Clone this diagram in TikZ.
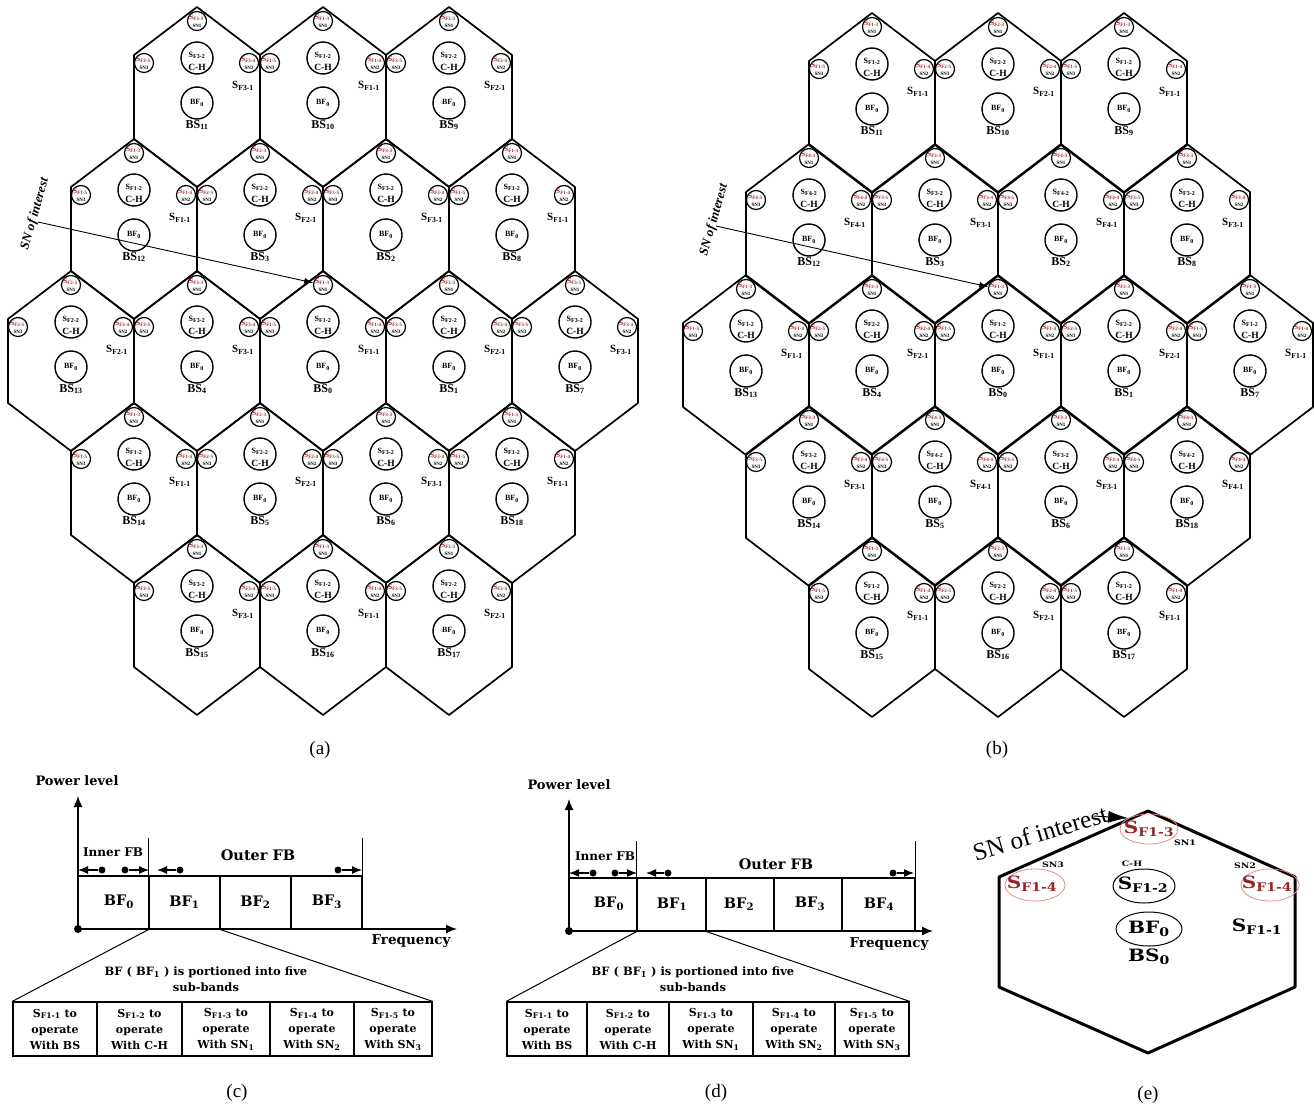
\documentclass[tikz,border=0pt]{standalone}
\usepackage{fontspec}
\usepackage{graphicx}
\setmainfont{Liberation Serif}
\newfontfamily\dvs{DejaVu Serif}
\usetikzlibrary{arrows.meta,shapes.geometric}
\definecolor{snred}{RGB}{160,40,40}
\definecolor{ered}{RGB}{150,38,38}
\definecolor{elight}{RGB}{230,140,140}
\newcommand\fsz[1]{\fontsize{#1}{#1}\selectfont}
\tikzset{
  hexl/.style={line width=1.7pt, line join=round},
  sncirc/.style={circle, draw, line width=1.2pt, minimum size=19pt, inner sep=0pt},
  bigc/.style={circle, draw, line width=1.4pt, minimum size=32pt, inner sep=0pt},
  redS/.style={inner sep=0pt, text=snred, font=\bfseries\fsz{7}},
  snt/.style={inner sep=0pt, font=\bfseries\fsz{5}},
  cht/.style={inner sep=0pt, font=\bfseries\fsz{8}},
  chl/.style={inner sep=0pt, font=\bfseries\fsz{9.5}},
  bft/.style={inner sep=0pt, font=\bfseries\fsz{8}},
  bsl/.style={inner sep=0pt, font=\bfseries\fsz{12}},
  s1l/.style={inner sep=0pt, font=\bfseries\fsz{11}},
  soi/.style={inner sep=0pt, font=\bfseries\itshape\fsz{13}, rotate=74},
  soiarrow/.style={line width=0.9pt, -{Latex[length=9pt,width=6pt]}},
  pl/.style={inner sep=0pt, font=\fsz{19}},
  axisl/.style={line width=1.4pt, -{Latex[length=11pt,width=9pt]}},
  band/.style={draw, rectangle, line width=1.3pt, inner sep=0pt, minimum height=53pt},
  bandl/.style={line width=1.3pt},
  bandt/.style={inner sep=0pt, font=\dvs\bfseries\fsz{14.5}},
  ct/.style={inner sep=0pt, font=\dvs\bfseries\fsz{13}},
  fdot/.style={circle, fill, inner sep=0pt, minimum size=7pt},
  odot/.style={circle, fill, inner sep=0pt, minimum size=8pt},
  darr/.style={line width=1.2pt, -{Latex[length=10pt,width=8pt]}},
  fanl/.style={line width=1pt},
  fant/.style={inner sep=0pt, align=center, font=\dvs\bfseries\fontsize{11.5}{16}\selectfont},
  tcell/.style={draw, rectangle, line width=1.3pt, minimum height=54pt, inner sep=0pt, align=center, font=\dvs\bfseries\fontsize{11}{16}\selectfont},
  ehex/.style={line width=3pt, line join=round},
  eredc/.style={ellipse, draw=elight, line width=0.8pt, inner sep=0pt},
  eblkc/.style={ellipse, draw, line width=1pt, inner sep=0pt},
  et/.style={inner sep=0pt, font=\dvs\bfseries\fsz{17}},
  esm/.style={inner sep=0pt, font=\dvs\bfseries\fsz{7.5}},
  earr/.style={line width=1pt, -{Latex[length=20pt,width=12pt]}}
}
\newcommand\hexcell[5]{%
\begin{scope}[shift={(#1,#2)}]
\draw[hexl] (0,0) -- (63,48) -- (63,132) -- (0,180) -- (-63,132) -- (-63,48) -- cycle;
\node[sncirc] (#5sn1) at (0,14) {};
\node[redS] at ([xshift=-0.5pt,yshift=3.5pt]#5sn1.center) {S\textsubscript{F#3-3}};
\node[snt] at ([yshift=-4.5pt]#5sn1.center) {SN1};
\node[sncirc] (#5sn3) at (-53,56) {};
\node[redS] at ([xshift=-0.5pt,yshift=3.5pt]#5sn3.center) {S\textsubscript{F#3-5}};
\node[snt] at ([yshift=-4.5pt]#5sn3.center) {SN3};
\node[sncirc] (#5sn2) at (52,56) {};
\node[redS] at ([xshift=-0.5pt,yshift=3.5pt]#5sn2.center) {S\textsubscript{F#3-4}};
\node[snt] at ([yshift=-4.5pt]#5sn2.center) {SN2};
\node[bigc] (#5ch) at (0,51) {};
\node[cht] at ([yshift=3pt]#5ch.center) {S\textsubscript{F#3-2}};
\node[chl] at ([yshift=-9pt]#5ch.center) {C-H};
\node[s1l] (#5s1) at (46,79) {S\textsubscript{F#3-1}};
\node[bigc] (#5bf) at (0,96) {};
\node[bft] at (#5bf.center) {BF\textsubscript{0}};
\node[bsl] (#5bs) at (0,118) {BS\textsubscript{#4}};
\end{scope}}
\begin{document}
\begin{tikzpicture}[x=1pt,y=-1pt]
\useasboundingbox (0,0) rectangle (1314,1110);
\fill[white] (0,0) rectangle (1314,1110);
% ---------- panel (a)
\hexcell{197}{7}{3}{11}{a11}
\hexcell{323}{7}{1}{10}{a10}
\hexcell{449}{7}{2}{9}{a9}
\hexcell{134}{139}{1}{12}{a12}
\hexcell{260}{139}{2}{3}{a3}
\hexcell{386}{139}{3}{2}{a2}
\hexcell{512}{139}{1}{8}{a8}
\hexcell{71}{271}{2}{13}{a13}
\hexcell{197}{271}{3}{4}{a4}
\hexcell{323}{271}{1}{0}{a0}
\hexcell{449}{271}{2}{1}{a1}
\hexcell{575}{271}{3}{7}{a7}
\hexcell{134}{403}{1}{14}{a14}
\hexcell{260}{403}{2}{5}{a5}
\hexcell{386}{403}{3}{6}{a6}
\hexcell{512}{403}{1}{18}{a18}
\hexcell{197}{535}{3}{15}{a15}
\hexcell{323}{535}{1}{16}{a16}
\hexcell{449}{535}{2}{17}{a17}
\node[soi] (asoi) at (35,214) {SN of interest};
\coordinate (astart) at (38,222);
\draw[soiarrow] (astart) -- (a0sn1);
\node[pl] (la) at (320,750) {(a)};
% ---------- panel (b)
\hexcell{872}{13}{1}{11}{b11}
\hexcell{998}{13}{2}{10}{b10}
\hexcell{1124}{13}{1}{9}{b9}
\hexcell{809}{144}{4}{12}{b12}
\hexcell{935}{144}{3}{3}{b3}
\hexcell{1061}{144}{4}{2}{b2}
\hexcell{1187}{144}{3}{8}{b8}
\hexcell{746}{275}{1}{13}{b13}
\hexcell{872}{275}{2}{4}{b4}
\hexcell{998}{275}{1}{0}{b0}
\hexcell{1124}{275}{2}{1}{b1}
\hexcell{1250}{275}{1}{7}{b7}
\hexcell{809}{406}{3}{14}{b14}
\hexcell{935}{406}{4}{5}{b5}
\hexcell{1061}{406}{3}{6}{b6}
\hexcell{1187}{406}{4}{18}{b18}
\hexcell{872}{537}{1}{15}{b15}
\hexcell{998}{537}{2}{16}{b16}
\hexcell{1124}{537}{1}{17}{b17}
\node[soi] (bsoi) at (714,220) {SN of interest};
\coordinate (bstart) at (716,226);
\draw[soiarrow] (bstart) -- (b0sn1);
\node[pl] (lb) at (997,750) {(b)};
% ---------- panel (c)
\coordinate (co) at (78,929);
\coordinate (cyt) at (78,796);
\coordinate (cxt) at (457,929);
\draw[axisl] (co) -- (cyt);
\draw[axisl] (co) -- (cxt);
\node[odot] (cod) at (co) {};
\node[band, minimum width=71pt] (cb0) at (113.5,902.5) {};
\node[band, minimum width=71pt] (cb1) at (184.5,902.5) {};
\node[band, minimum width=71pt] (cb2) at (255.5,902.5) {};
\node[band, minimum width=71pt] (cb3) at (326.5,902.5) {};
\node[bandt] at (119,902) {BF\textsubscript{0}};
\node[bandt] at (184.5,902) {BF\textsubscript{1}};
\node[bandt] at (255.5,902) {BF\textsubscript{2}};
\node[bandt] at (327,902) {BF\textsubscript{3}};
\draw[bandl] (cb1.north west) -- ++(0,-37);
\draw[bandl] (cb3.north east) -- ++(0,-37);
\node[fdot] (cd1) at (102,870) {}; \coordinate (ce1) at (78,870);
\node[fdot] (cd2) at (125,870) {}; \coordinate (ce2) at (149,870);
\node[fdot] (cd3) at (180,870) {}; \coordinate (ce3) at (157,870);
\node[fdot] (cd4) at (338,870) {}; \coordinate (ce4) at (362,870);
\draw[darr] (cd1) -- (ce1);
\draw[darr] (cd2) -- (ce2);
\draw[darr] (cd3) -- (ce3);
\draw[darr] (cd4) -- (ce4);
\node[ct] (cpl) at (77,781) {Power level};
\node[ct, font=\dvs\bfseries\fsz{12}] (cif) at (113,852) {Inner FB};
\node[ct, font=\dvs\bfseries\fsz{14.5}] (cof) at (258,855) {Outer FB};
\node[ct, font=\dvs\bfseries\fsz{13.5}] (cfr) at (411,941) {Frequency};
\node[fant] (cfan) at (206,979) {BF ( BF\textsubscript{1} ) is portioned into five\\sub-bands};
\node[tcell, minimum width=84pt] (ct1) at (55,1029) {S\textsubscript{F1-1} to\\operate\\With BS};
\node[tcell, minimum width=85pt] (ct2) at (139.5,1029) {S\textsubscript{F1-2} to\\operate\\With C-H};
\node[tcell, minimum width=88pt] (ct3) at (226,1029) {S\textsubscript{F1-3} to\\operate\\With SN\textsubscript{1}};
\node[tcell, minimum width=84pt] (ct4) at (312,1029) {S\textsubscript{F1-4} to\\operate\\With SN\textsubscript{2}};
\node[tcell, minimum width=78pt] (ct5) at (393,1029) {S\textsubscript{F1-5} to\\operate\\With SN\textsubscript{3}};
\draw[fanl] (cb1.south west) -- (ct1.north west);
\draw[fanl] (cb1.south east) -- (ct5.north east);
\node[pl] (lc) at (237,1093) {(c)};
% ---------- panel (d)
\coordinate (do) at (569,931);
\coordinate (dyt) at (569,799);
\coordinate (dxt) at (933,931);
\draw[axisl] (do) -- (dyt);
\draw[axisl] (do) -- (dxt);
\node[odot] (dod) at (do) {};
\node[band, minimum width=68pt] (db0) at (603,904.5) {};
\node[band, minimum width=69pt] (db1) at (671.5,904.5) {};
\node[band, minimum width=68pt] (db2) at (740,904.5) {};
\node[band, minimum width=68pt] (db3) at (808,904.5) {};
\node[band, minimum width=73pt] (db4) at (878.5,904.5) {};
\node[bandt] at (609,904) {BF\textsubscript{0}};
\node[bandt] at (672,904) {BF\textsubscript{1}};
\node[bandt] at (739,904) {BF\textsubscript{2}};
\node[bandt] at (810,904) {BF\textsubscript{3}};
\node[bandt] at (879,904) {BF\textsubscript{4}};
\draw[bandl] (db1.north west) -- ++(0,-36);
\draw[bandl] (db4.north east) -- ++(0,-36);
\node[fdot] (dd1) at (593,873) {}; \coordinate (de1) at (569,873);
\node[fdot] (dd2) at (615,873) {}; \coordinate (de2) at (637,873);
\node[fdot] (dd3) at (668,873) {}; \coordinate (de3) at (646,873);
\node[fdot] (dd4) at (893,873) {}; \coordinate (de4) at (914,873);
\draw[darr] (dd1) -- (de1);
\draw[darr] (dd2) -- (de2);
\draw[darr] (dd3) -- (de3);
\draw[darr] (dd4) -- (de4);
\node[ct] (dpl) at (569,785) {Power level};
\node[ct, font=\dvs\bfseries\fsz{12}] (dif) at (605,856) {Inner FB};
\node[ct, font=\dvs\bfseries\fsz{14.5}] (dof) at (776,864) {Outer FB};
\node[ct, font=\dvs\bfseries\fsz{13.5}] (dfr) at (889,944) {Frequency};
\node[fant] (dfan) at (693,979) {BF ( BF\textsubscript{1} ) is portioned into five\\sub-bands};
\node[tcell, minimum width=80pt] (dt1) at (547,1029) {S\textsubscript{F1-1} to\\operate\\With BS};
\node[tcell, minimum width=82pt] (dt2) at (628,1029) {S\textsubscript{F1-2} to\\operate\\With C-H};
\node[tcell, minimum width=84pt] (dt3) at (711,1029) {S\textsubscript{F1-3} to\\operate\\With SN\textsubscript{1}};
\node[tcell, minimum width=82pt] (dt4) at (794,1029) {S\textsubscript{F1-4} to\\operate\\With SN\textsubscript{2}};
\node[tcell, minimum width=74pt] (dt5) at (872,1029) {S\textsubscript{F1-5} to\\operate\\With SN\textsubscript{3}};
\draw[fanl] (db1.south west) -- (dt1.north west);
\draw[fanl] (db1.south east) -- (dt5.north east);
\node[pl] (ld) at (716,1093) {(d)};
% ---------- panel (e)
\draw[ehex] (1148,811) -- (1295,877) -- (1295,987) -- (1148,1053) -- (999,987) -- (999,877) -- cycle;
\node[eredc, minimum width=58pt, minimum height=30pt] (esn1) at (1149,829) {};
\node[eredc, minimum width=60pt, minimum height=32pt] (esn3) at (1035,885) {};
\node[eredc, minimum width=58pt, minimum height=32pt] (esn2) at (1270,885) {};
\node[eblkc, minimum width=62pt, minimum height=34pt] (ech) at (1144,886) {};
\node[eblkc, minimum width=66pt, minimum height=34pt] (ebf) at (1149,929) {};
\node[et, text=ered] at (1149,829) {\scalebox{1.18}[1]{S\textsubscript{F1-3}}};
\node[et, text=ered] at (1032,884) {\scalebox{1.18}[1]{S\textsubscript{F1-4}}};
\node[et, text=ered] at (1267,884) {\scalebox{1.18}[1]{S\textsubscript{F1-4}}};
\node[et] at (1143,885) {\scalebox{1.18}[1]{S\textsubscript{F1-2}}};
\node[et] at (1149,929) {\scalebox{1.18}[1]{BF\textsubscript{0}}};
\node[et] (ebs) at (1149,957) {\scalebox{1.18}[1]{BS\textsubscript{0}}};
\node[et] (es1) at (1257,927) {\scalebox{1.18}[1]{S\textsubscript{F1-1}}};
\node[esm] (elsn1) at (1185,843) {\scalebox{1.25}[1]{SN1}};
\node[esm] (elsn3) at (1053,865) {\scalebox{1.25}[1]{SN3}};
\node[esm] (elch) at (1132,864) {\scalebox{1.25}[1]{C-H}};
\node[esm] (elsn2) at (1245,866) {\scalebox{1.25}[1]{SN2}};
\node[inner sep=0pt, font=\fsz{25}, rotate=16.5] (esoi) at (1040,833) {SN of interest};
\coordinate (estart) at (1094,816);
\draw[earr] (estart) -- (esn1.north west);
\node[pl] (le) at (1148,1095) {(e)};
\end{tikzpicture}
\end{document}
